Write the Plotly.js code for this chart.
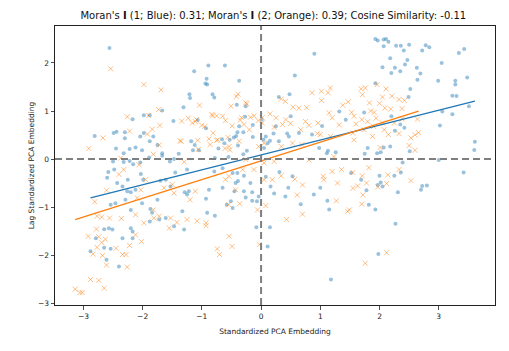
<!DOCTYPE html>
<html>
<head>
<meta charset="utf-8">
<script src="https://cdn.plot.ly/plotly-3.0.1.min.js"></script>
<style>html,body{margin:0;padding:0;background:#fff;}#chart{width:509px;height:351px;}</style>
</head>
<body>
<div id="chart"></div>
<script>
// Series 1 (blue): standardized PCA embedding vs spatial lag
const blueX = [-2.56,-1.13,-1.21,-1.31,-1.67,-1.98,-1.88,-2.17,-1.48,-2.81,-2.49,-2.44,-2.30,-2.30,-2.04,-1.82,-1.98,-1.88,-1.75,-2.45,-2.22,-2.12,-2.01,-2.32,-1.67,-1.89,-1.67,-1.39,-1.18,-1.12,-1.15,-1.05,-1.54,-1.47,-2.50,-2.32,-2.22,-2.16,-2.04,
0.90,-0.89,-0.61,-0.92,-0.94,-0.37,0.57,-0.82,-0.79,0.30,0.48,-0.26,-0.41,0.50,0.01,-0.14,0.25,-0.37,-0.40,-0.30,0.08,0.04,0.21,0.44,0.47,0.64,-0.14,-0.42,-0.62,-0.53,-0.39,-0.72,-0.24,0.11,0.15,0.30,1.03,1.32,1.43,1.13,1.11,1.26,0.86,-0.78,-0.55,-0.30,0.05,0.98,
1.93,1.97,2.07,2.11,2.15,2.07,2.28,2.36,2.41,2.50,2.78,2.84,2.72,3.34,3.43,2.18,2.47,2.43,2.05,2.26,2.35,2.20,2.63,2.69,2.64,3.05,2.99,3.28,3.28,3.48,2.52,2.49,3.23,3.30,3.51,3.23,3.06,3.02,3.61,3.60,1.93,2.20,2.26,2.18,2.07,1.96,2.02,1.75,1.74,2.35,2.42,2.51,2.39,3.00,1.80,
-2.58,-2.48,-2.60,-2.43,-2.34,-2.25,-2.26,-2.20,-2.12,-2.03,-1.99,-2.46,-2.54,-2.29,-2.20,-2.01,-1.87,-1.84,-1.75,-1.70,-1.61,-1.45,-1.25,-1.53,-1.29,-1.25,-1.22,-1.33,-1.30,-1.47,-1.88,-1.72,-1.61,-2.57,-2.51,-2.65,-2.20,-2.17,-2.34,-2.54,-2.40,-2.88,-2.65,-2.79,-2.61,-2.17,
-0.79,-0.65,-0.88,-0.93,-0.91,-0.78,-0.48,-0.40,-0.29,-0.43,-0.39,-0.65,-0.45,-0.29,-0.26,-0.15,-0.15,-0.51,-0.48,-0.58,-0.07,-0.04,-0.08,0.15,0.11,0.22,0.16,0.08,0.31,0.41,0.46,0.67,0.89,1.00,1.12,1.15,1.18,0.53,-0.18,
3.42,2.72,2.80,2.70,2.31,2.36,2.25,2.00,2.02,2.05,1.97,1.69,1.78,1.82,1.93,2.27,1.98,1.52,
-0.66,-0.46,-0.93,-1.07,-1.20,-0.91,-0.27];
const blueY = [2.31,1.83,1.35,1.08,1.01,0.91,0.91,0.83,0.79,0.48,0.54,0.57,0.43,0.56,0.47,0.47,0.54,0.37,0.29,0.22,0.21,0.24,0.18,0.12,0.12,0.03,0.07,0.11,0.37,0.29,0.18,0.18,-0.05,0.00,-0.05,-0.06,-0.04,-0.11,-0.07,
2.19,1.95,1.95,1.67,1.57,1.63,1.74,1.35,1.28,1.29,1.35,1.10,1.13,0.89,0.82,0.71,0.68,0.68,0.56,0.56,0.47,0.40,0.53,0.53,0.47,0.54,0.46,0.48,0.33,0.40,0.28,0.22,0.17,0.33,0.38,0.37,0.69,0.99,0.82,0.17,0.12,0.14,0.51,0.02,0.04,0.10,0.23,0.23,
2.50,2.47,2.49,2.50,2.44,2.35,2.36,2.36,2.26,2.38,2.37,2.33,2.26,2.21,2.29,2.10,2.06,1.97,1.91,1.90,1.83,1.79,1.90,1.78,1.65,2.00,1.63,1.63,1.55,1.70,1.46,1.29,1.32,1.31,1.10,0.93,0.99,0.70,0.36,0.19,1.58,0.89,0.59,0.26,0.24,0.12,0.14,0.11,0.97,0.72,0.65,0.16,-0.07,-0.02,0.23,
-0.27,-0.22,-0.39,-0.50,-0.57,-0.43,-0.67,-0.69,-0.64,-0.31,-0.43,-0.92,-0.95,-0.85,-1.06,-0.92,-1.04,-1.12,-0.85,-0.45,-0.43,-0.28,-0.22,-0.57,-0.69,-0.74,-0.67,-1.09,-1.47,-1.40,-1.30,-1.26,-1.23,-1.44,-1.47,-1.46,-1.44,-1.51,-1.65,-1.87,-2.24,-1.92,-1.85,-1.65,-2.10,-1.65,
-0.26,-0.19,-0.64,-0.83,-1.12,-1.18,-0.29,-0.29,-0.35,-0.50,-0.46,-0.60,-0.67,-0.67,-0.80,-0.69,-0.87,-0.88,-1.02,-0.95,-0.88,-0.78,-1.42,-1.42,-1.82,-0.72,-0.57,-0.37,-0.27,-0.78,-0.60,-0.94,-0.74,-0.60,-0.87,-1.05,-2.51,-0.36,-0.50,
-0.28,-0.56,-0.55,-0.64,-0.69,-0.28,-0.35,-0.35,-0.49,-0.57,-0.54,-0.43,-0.65,-0.95,-1.05,-1.35,-1.98,-0.29,
0.41,0.45,0.64,0.81,1.27,1.55,0.88];

// Series 2 (orange)
const orangeX = [-2.54,-1.98,-1.69,-1.04,-1.73,-2.26,-1.90,-1.71,-1.84,-1.92,-2.22,-2.67,-1.34,-1.16,-1.09,-1.00,-1.37,-1.72,-2.91,-1.82,-2.37,-2.06,-1.30,-1.06,
1.17,1.13,1.02,0.86,0.41,0.34,0.54,0.64,0.77,1.02,1.15,1.38,1.47,-0.39,-0.51,-0.26,-0.83,-0.75,-0.65,-0.33,-0.12,0.15,0.25,0.42,0.50,0.75,0.81,0.96,1.20,1.32,-0.95,-0.81,-0.49,-0.29,0.02,0.02,0.22,0.36,0.67,0.95,1.00,1.17,-0.86,-0.73,-0.56,-0.53,-0.37,-0.20,0.05,-0.04,0.34,0.53,0.69,0.05,-0.26,0.22,0.81,1.23,
1.69,1.76,1.71,1.96,2.11,2.21,2.33,2.42,2.05,1.83,2.00,2.09,2.19,1.85,1.91,2.38,1.53,1.57,1.60,1.70,1.80,1.94,2.05,2.25,2.38,2.64,1.74,1.90,2.08,2.15,2.33,1.57,1.88,2.66,2.60,2.53,2.50,2.60,2.01,1.55,
-2.81,-2.61,-2.32,-2.40,-2.09,-2.03,-1.95,-1.82,-1.64,-1.50,-1.47,-1.11,-1.20,-2.77,-2.69,-2.56,-2.36,-2.12,-1.98,-1.81,-1.72,-1.53,-1.55,-1.42,-1.25,-1.08,-2.78,-2.92,-2.74,-2.63,-2.69,-2.77,-2.84,-2.68,-2.45,-2.34,-2.28,-2.02,-2.22,-2.61,-2.26,-2.88,-2.74,-2.65,-3.14,-3.06,-3.02,-2.12,
-0.93,-0.93,-0.54,-0.49,-0.74,-0.70,-0.36,-0.55,-0.43,-0.60,-0.54,-0.06,-0.03,0.08,0.05,0.19,0.34,0.57,0.61,0.70,0.70,0.43,1.06,1.05,1.20,1.29,1.27,1.36,1.46,-0.31,-0.12,
1.55,1.71,1.82,2.33,2.14,2.12,1.97,1.78,1.63,1.55,1.72,1.70,2.53,2.12,1.76,1.49,
-0.35,-0.05,-0.18,-0.61,-0.54,-0.75,-0.88,-1.07,-1.35,-1.23,-1.11,-0.82,-0.60,-0.42,-0.24];
const orangeY = [1.88,1.55,1.44,1.12,1.03,0.88,0.91,0.70,0.62,0.52,0.58,0.44,0.79,0.75,0.82,0.70,0.38,0.29,0.22,0.10,0.02,-0.12,-0.06,0.20,
1.48,1.38,1.41,1.38,1.20,1.25,1.08,1.06,1.07,1.22,0.96,1.12,1.19,1.35,1.10,1.17,0.93,0.90,0.89,0.86,0.90,0.94,0.86,0.82,0.74,0.78,0.70,0.75,0.86,0.71,0.68,0.54,0.69,0.72,0.86,0.75,0.66,0.72,0.61,0.53,0.51,0.47,0.30,0.40,0.45,0.19,0.37,0.61,0.33,0.26,0.26,0.33,0.30,-0.08,-0.01,-0.05,-0.02,0.05,
1.46,1.48,1.34,1.55,1.46,1.31,1.24,1.22,1.29,1.17,1.16,1.06,1.04,1.00,0.97,1.05,0.97,0.89,0.73,0.82,0.78,0.85,0.75,0.75,0.83,0.83,0.61,0.68,0.61,0.51,0.53,0.40,0.47,0.55,0.50,0.44,0.28,0.18,0.24,0.54,
-0.89,-0.65,-0.22,-0.32,-0.81,-0.64,-0.43,-1.06,-0.60,-0.53,-0.71,-0.67,-0.85,-1.19,-1.21,-1.23,-1.24,-1.16,-1.33,-1.23,-1.19,-1.23,-1.44,-1.32,-1.26,-1.29,-1.46,-1.61,-1.62,-1.67,-1.74,-1.84,-1.98,-2.01,-1.86,-1.99,-1.99,-1.72,-1.80,-2.21,-2.25,-2.51,-2.53,-2.69,-2.71,-2.78,-2.78,-1.58,
-1.33,-1.39,-1.61,-1.82,-1.87,-1.99,-0.93,-0.95,-0.64,-0.43,-0.36,-1.06,-1.78,-0.97,-0.43,-0.43,-0.35,-0.42,-0.75,-0.54,-1.15,-1.26,-0.43,-0.36,-0.26,-0.50,-0.87,-0.22,-1.09,-0.22,-0.22,
-0.28,-0.35,-0.18,-0.22,-0.33,-0.51,-0.58,-0.50,-0.56,-0.61,-0.75,-0.94,-0.45,-1.95,-2.17,-1.06,
0.81,0.80,0.87,0.22,0.26,0.39,0.42,0.39,0.37,0.85,0.78,0.90,0.80,1.30,1.15];

// Moran's I (regression slope) and fitted intercepts
const moranI = [0.31, 0.39];
const intercepts = [0.085, -0.04];
const cosineSim = -0.11;

function fitLine(xs, slope, b) {
  const lo = Math.min(...xs), hi = Math.max(...xs);
  return {x: [lo, hi], y: [b + slope * lo, b + slope * hi]};
}
const blueFit = fitLine(blueX, moranI[0], intercepts[0]);
const orangeFit = fitLine(orangeX, moranI[1], intercepts[1]);

const BLUE = '#1f77b4', ORANGE = '#ff7f0e';
const traces = [
  {type:'scatter', mode:'markers', x: blueX, y: blueY, hoverinfo:'skip',
   marker:{symbol:'circle', size:4, color:'rgba(31,119,180,0.45)', line:{width:0}}},
  {type:'scatter', mode:'markers', x: orangeX, y: orangeY, hoverinfo:'skip',
   marker:{symbol:'x-thin', size:5, color:'rgba(255,127,14,0.5)', line:{width:1, color:'rgba(255,127,14,0.5)'}}},
  {type:'scatter', mode:'lines', x: blueFit.x, y: blueFit.y, line:{color:BLUE, width:1.3}, hoverinfo:'skip'},
  {type:'scatter', mode:'lines', x: orangeFit.x, y: orangeFit.y, line:{color:ORANGE, width:1.3}, hoverinfo:'skip'}
];

const fnt = {family:'DejaVu Sans, sans-serif', size:7.5, color:'#222'};
const axisBase = {
  showgrid:false, zeroline:false, showline:true, mirror:true, linecolor:'#222', linewidth:1,
  ticks:'outside', ticklen:3.5, tickwidth:0.8, tickcolor:'#222', tickfont:fnt, automargin:false
};
const layout = {
  width:509, height:351, showlegend:false,
  paper_bgcolor:'#fff', plot_bgcolor:'#fff',
  margin:{l:55, r:14, t:26, b:46},
  font:fnt,
  title:{text:"Moran's <b>I</b> (1; Blue): " + moranI[0].toFixed(2) + "; Moran's <b>I</b> (2; Orange): " + moranI[1].toFixed(2) + "; Cosine Similarity: " + cosineSim.toFixed(2),
         font:{family:'DejaVu Sans, sans-serif', size:10, color:'#111'}, x:0.537, xanchor:'center', y:0.955, yanchor:'middle'},
  xaxis:Object.assign({}, axisBase, {range:[-3.48, 3.95], tickvals:[-3,-2,-1,0,1,2,3],
         title:{text:'Standardized PCA Embedding', font:fnt, standoff:9}}),
  yaxis:Object.assign({}, axisBase, {range:[-3.04, 2.77], tickvals:[-3,-2,-1,0,1,2],
         title:{text:'Lag Standardized PCA Embedding', font:fnt, standoff:2}}),
  shapes:[
    {type:'line', xref:'x', yref:'paper', x0:0, x1:0, y0:0, y1:1, line:{color:'#7f7f7f', width:2, dash:'7px,4px'}},
    {type:'line', xref:'paper', yref:'y', x0:0, x1:1, y0:0, y1:0, line:{color:'#7f7f7f', width:2, dash:'7px,4px'}}
  ]
};
Plotly.newPlot('chart', traces, layout, {staticPlot:true, displayModeBar:false});
</script>
</body>
</html>
